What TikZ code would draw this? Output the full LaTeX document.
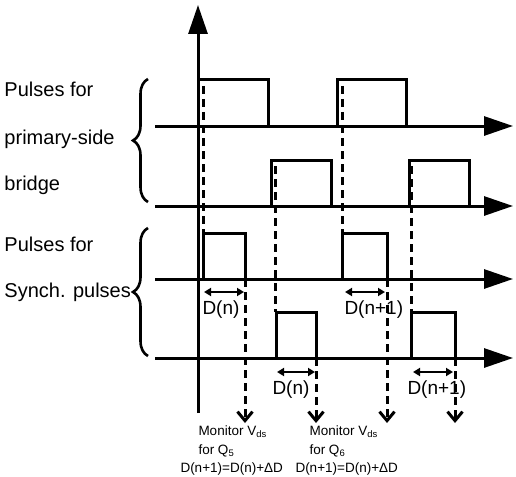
\documentclass[tikz,border=0pt]{standalone}
\usepackage{fontspec}
\setmainfont{Liberation Sans}
\usetikzlibrary{arrows.meta,decorations.pathreplacing}

\begin{document}
\begin{tikzpicture}[x=1pt,y=-1pt,line width=3pt,
      axis/.style={-{Triangle[length=29pt,width=19pt]}},
      guide/.style={dash pattern=on 8pt off 5pt},
      probe/.style={dash pattern=on 8pt off 5pt,-{Straight Barb[length=9pt,width=15pt,line width=3pt]}},
      span/.style={line width=2.2pt,{Triangle[length=7pt,width=8pt]}-{Triangle[length=7pt,width=8pt]}},
      grp/.style={decorate,decoration={brace,amplitude=15pt},line width=2.6pt},
      every node/.append style={inner sep=0pt,anchor=base west},
      side/.style={font=\fontsize{20}{20}\selectfont},
      dlab/.style={font=\fontsize{19}{19}\selectfont},
      note/.style={font=\fontsize{13.5}{13.5}\selectfont}]
    \useasboundingbox (0,0) rectangle (516,476);
    % axes
    \draw[axis] (198,413) -- (198,5);
    \foreach \y in {126,206,279,358}
      \draw[axis] (155,\y) -- (513,\y);
    % primary-side bridge pulses
    \draw (198,126) -- (198,80) -- (268,80) -- (268,126);
    \draw (337,126) -- (337,80) -- (406,80) -- (406,126);
    \draw (271,206) -- (271,160) -- (331,160) -- (331,206);
    \draw (409,206) -- (409,160) -- (469,160) -- (469,206);
    % synch. pulses
    \draw (203,279) -- (203,233) -- (245,233) -- (245,279);
    \draw (342,279) -- (342,233) -- (387,233) -- (387,279);
    \draw (276,358) -- (276,312) -- (316,312) -- (316,358);
    \draw (411,358) -- (411,312) -- (455,312) -- (455,358);
    % guides
    \draw[guide] (203,86) -- (203,233);
    \draw[guide] (275,166) -- (275,312);
    \draw[guide] (342,86) -- (342,233);
    \draw[guide] (411,166) -- (411,312);
    \foreach \x/\y in {245/279,316/358,387/279,455/358}
      \draw[probe] (\x,\y) -- (\x,423);
    % widths
    \draw[span] (204,292) -- (244,292);
    \draw[span] (345,292) -- (385,292);
    \draw[span] (277,372) -- (315,372);
    \draw[span] (413,372) -- (453,372);
    \node (dn1) [dlab] at (201,314) {D(n)};
    \node (dnp1) [dlab] at (343,314) {D(n+1)};
    \node (dn2) [dlab] at (271,394) {D(n)};
    \node (dnp2) [dlab] at (406,394) {D(n+1)};
    % groups
    \draw[grp] (148,202) -- (148,79);
    \draw[grp] (148,356) -- (148,228);
    \node (prim1) [side] at (3,97) {Pulses for};
    \node (prim2) [side] at (3,144) {primary-side};
    \node (prim3) [side] at (3,190) {bridge};
    \node (syn1) [side] at (3,251) {Pulses for};
    \node (syn2) [side] at (3,297) {Synch. pulses};
    % monitor notes
    \node (mon5) [note] at (197,435) {Monitor V\textsubscript{ds}};
    \node (for5) [note] at (197,454) {for Q\textsubscript{5}};
    \node (eq5) [note] at (179,472) {D(n+1)=D(n)+ΔD};
    \node (mon6) [note] at (308,435) {Monitor V\textsubscript{ds}};
    \node (for6) [note] at (308,454) {for Q\textsubscript{6}};
    \node (eq6) [note] at (294,472) {D(n+1)=D(n)+ΔD};
\end{tikzpicture}
\end{document}
